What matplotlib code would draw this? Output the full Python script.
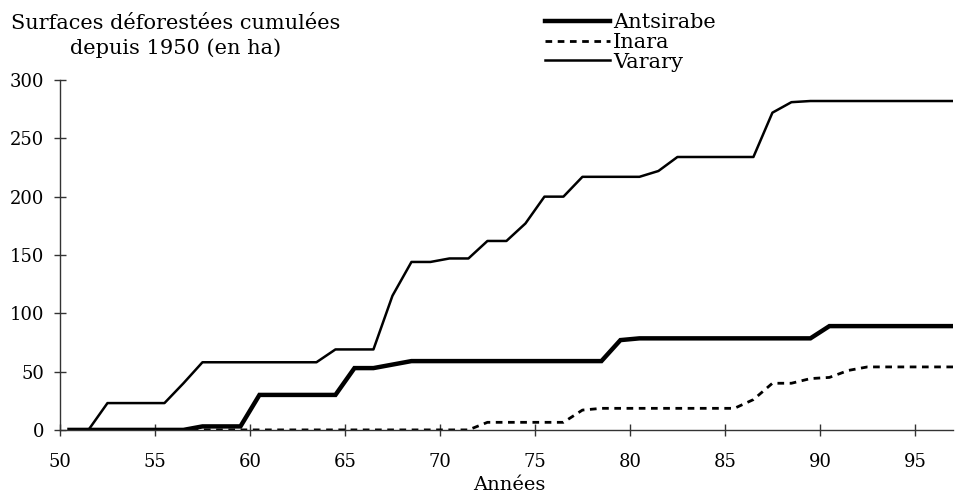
import numpy as np
import matplotlib.pyplot as plt

# years 1950..1997 (plotted at mid-year)
years = list(range(50, 98))

antsirabe = [0, 0, 0, 0, 0, 0, 0, 3, 3, 3,
             30, 30, 30, 30, 30, 53, 53, 56, 59, 59,
             59, 59, 59, 59, 59, 59, 59, 59, 59, 77,
             78.5, 78.5, 78.5, 78.5, 78.5, 78.5, 78.5, 78.5, 78.5, 78.5,
             89, 89, 89, 89, 89, 89, 89, 89]

inara = [0, 0, 0, 0, 0, 0, 0, 0, 0, 0,
         0, 0, 0, 0, 0, 0, 0, 0, 0, 0,
         0, 0, 6.5, 6.5, 6.5, 6.5, 6.5, 17, 18.5, 18.5,
         18.5, 18.5, 18.5, 18.5, 18.5, 18.5, 26, 40, 40, 44,
         45, 51, 54, 54, 54, 54, 54, 54]

varary = [0, 0, 23, 23, 23, 23, 40, 58, 58, 58,
          58, 58, 58, 58, 69, 69, 69, 115, 144, 144,
          147, 147, 162, 162, 177, 200, 200, 217, 217, 217,
          217, 222, 234, 234, 234, 234, 234, 272, 281, 282,
          282, 282, 282, 282, 282, 282, 282, 282]

xticks = [50, 55, 60, 65, 70, 75, 80, 85, 90, 95]
yticks = [0, 50, 100, 150, 200, 250, 300]

plt.rcParams['font.family'] = ['DejaVu Serif']

fig = plt.figure(figsize=(9.55, 4.97), dpi=100)
ax = fig.add_axes([0.0628, 0.135, 0.935, 0.704])

x = np.array(years) + 0.5
ax.plot(x, antsirabe, color='black', lw=3.2, solid_joinstyle='miter', label='Antsirabe')
ax.plot(x, inara, color='black', lw=2.0, linestyle=(0, (2.4, 2.0)), label='Inara')
ax.plot(x, varary, color='black', lw=1.8, label='Varary')

ax.set_xlim(50, 97)
ax.set_ylim(0, 300)
ax.set_xticks(xticks)
ax.set_yticks(yticks)
ax.tick_params(direction='inout', length=9, width=1, color='#333333', labelsize=13)
ax.tick_params(axis='x', pad=12)
ax.tick_params(axis='y', pad=7)

for s in ['top', 'right']:
    ax.spines[s].set_visible(False)
for s in ['left', 'bottom']:
    ax.spines[s].set_color('#333333')
    ax.spines[s].set_linewidth(1)
ax.spines['left'].set_zorder(0)

fig.text(0.184, 0.972, 'Surfaces déforestées cumulées\ndepuis 1950 (en ha)',
         ha='center', va='top', fontsize=15, linespacing=1.35)
fig.text(0.533, 0.025, 'Années', ha='center', va='center', fontsize=14)

fig.legend(loc='upper left', bbox_to_anchor=(0.562, 0.99), frameon=False,
           fontsize=15, handlelength=3.1, handletextpad=0.15, labelspacing=0.03,
           borderaxespad=0)

fig.savefig('out.png', dpi=100)
